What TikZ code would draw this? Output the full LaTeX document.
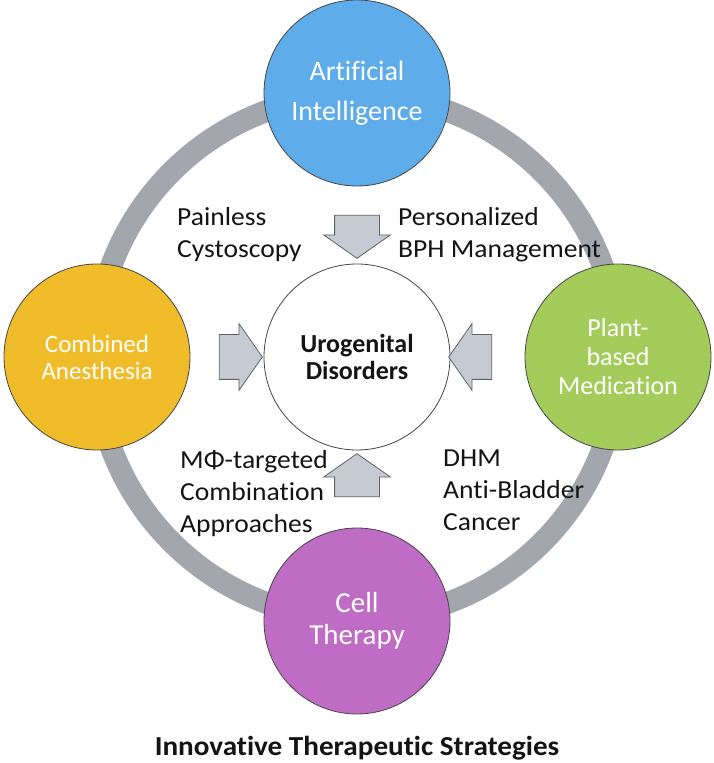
\documentclass[tikz,border=0pt]{standalone}
\usepackage{fontspec}
\setmainfont{Carlito}[Ligatures=NoCommon]
\newfontfamily\widefont{Carlito}[Ligatures=NoCommon, FakeStretch=1.06]
\usetikzlibrary{positioning, shapes.arrows}
\definecolor{RingGray}{RGB}{164,166,173}
\definecolor{AIBlue}{RGB}{94,172,234}
\definecolor{AnesYellow}{RGB}{240,188,42}
\definecolor{PlantGreen}{RGB}{164,204,90}
\definecolor{CellPurple}{RGB}{190,108,196}
\definecolor{ArrowGray}{RGB}{198,203,211}
\definecolor{EdgeGray}{RGB}{70,70,74}
\definecolor{DarkText}{RGB}{20,20,20}

\begin{document}
\begin{tikzpicture}[x=1pt, y=1pt,
    hub/.style={circle, draw=EdgeGray, line width=0.8pt, minimum size=186pt,
                inner sep=0pt, align=center},
    topic/.style={hub, text=white,
                  path picture={
                    \draw[white, opacity=.55, line width=1.6pt]
                      ([shift={(path picture bounding box.center)}]150:86) arc[start angle=150, end angle=215, radius=86];
                    \draw[white, opacity=.45, line width=1.4pt]
                      ([shift={(path picture bounding box.center)}]-40:86) arc[start angle=-40, end angle=10, radius=86];}},
    blockarrow/.style={single arrow, draw=EdgeGray!85, fill=ArrowGray, line width=0.8pt,
                       minimum height=43pt, inner xsep=0pt, inner ysep=22pt,
                       single arrow head extend=11pt, single arrow tip angle=110},
    note/.style={anchor=north west, align=left, inner sep=0pt, text=DarkText,
                 font=\widefont\fontsize{26}{32}\selectfont}]

  \useasboundingbox (0,0) rectangle (714,763);
  \coordinate (ctr) at (357,406);

  % outer ring
  \draw[RingGray, line width=22pt] (ctr) circle[radius=262];

  % strategy circles
  \node[topic, fill=AIBlue, font=\fontsize{28}{40}\selectfont] (ai) at (357,670) {Artificial\\Intelligence};
  \node[topic, fill=AnesYellow, font=\fontsize{25}{27}\selectfont] (anes) at (97,406) {Combined\\Anesthesia};
  \node[topic, fill=PlantGreen, font=\fontsize{26}{29}\selectfont] (plant) at (618,406) {Plant-\\based\\Medication};
  \node[topic, fill=CellPurple, font=\fontsize{29}{32}\selectfont] (cell) at (357,142) {Cell\\Therapy};

  % centre
  \node[hub, fill=white, text=DarkText, font=\bfseries\fontsize{26}{27}\selectfont] (uro) at (ctr) {Urogenital\\Disorders};

  % block arrows towards the centre
  \node[blockarrow, rotate=-90] (aiArrow) at (357,534) {};
  \node[blockarrow] (anesArrow) at (233,406) {};
  \node[blockarrow, rotate=180] (plantArrow) at (478,406) {};
  \node[blockarrow, rotate=90] (cellArrow) at (357,280) {};

  % application notes
  \node[note] (painless) at (177,556) {Painless\\Cystoscopy};
  \node[note] (bph) at (398,556) {Personalized\\BPH Management};
  \node[note] (mphi) at (180,313) {MΦ-targeted\\Combination\\Approaches};
  \node[note] (dhm) at (443,313) {DHM\\Anti-Bladder\\Cancer};

  \node[anchor=base, text=DarkText, font=\widefont\bfseries\fontsize{27.5}{30}\selectfont] (title) at (357,8) {Innovative Therapeutic Strategies};
\end{tikzpicture}
\end{document}
